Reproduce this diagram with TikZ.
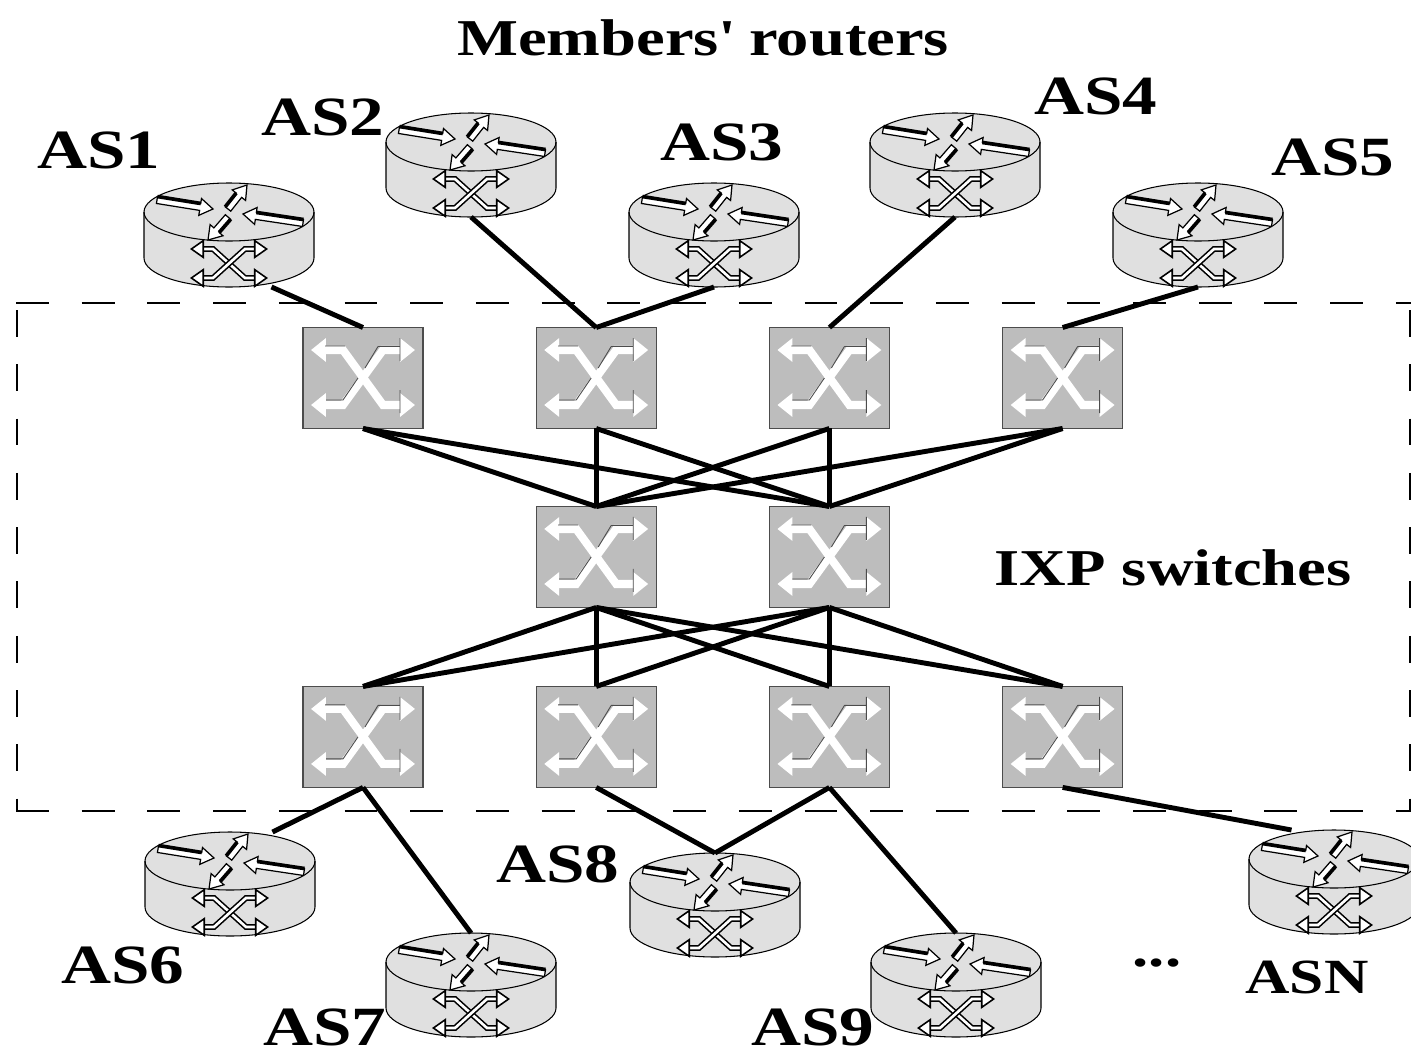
\documentclass[tikz,border=0pt]{standalone}
\usepackage{fontspec}
\setmainfont{Liberation Serif}[FakeStretch=1.25]
\usetikzlibrary{arrows.meta,calc}

\definecolor{routergray}{gray}{0.88}
\definecolor{switchgray}{gray}{0.74}

\newcommand{\blockarrow}[5]{%
  \pgfmathsetmacro{\blockang}{atan2(-(#4-#2),#3-#1)}%
  \pgfmathsetmacro{\blocklen}{veclen(#3-#1,#4-#2)}%
  \draw[line width=0.7pt,fill=white,shift={(#1,#2)},rotate=\blockang]
    (0,-3.5) -- ({\blocklen-13},-3.5) -- ({\blocklen-13},-8.5) -- ({\blocklen},0)
    -- ({\blocklen-13},8.5) -- ({\blocklen-13},3.5) -- (0,3.5) -- cycle;
  \draw[line width=2.1pt,shift={(#1,#2)},rotate=\blockang]
    (0,{#5*3.5}) -- ({\blocklen-13},{#5*3.5});
}

\tikzset{
  router/.style={minimum width=3.4cm,minimum height=2.08cm,inner sep=0pt,outer sep=0pt},
  switchbox/.style={draw=black!70,fill=switchgray,line width=0.6pt,minimum width=2.4cm,minimum height=2.02cm,inner sep=0pt,outer sep=0pt},
  link/.style={line width=2.8pt},
  titlelabel/.style={font=\fontsize{29.4}{29.4}\selectfont\bfseries,inner sep=0pt},
  aslabel/.style={font=\fontsize{31.5}{31.5}\selectfont\bfseries,inner sep=0pt},
  crossline/.style={line width=0.9pt,double=white,double distance=1.5pt,
    {Triangle[open,fill=white,length=8pt,width=11pt,line width=0.9pt]}-{Triangle[open,fill=white,length=8pt,width=11pt,line width=0.9pt]}},
  whitecross/.style={white,line width=4.6pt,
    {Triangle[length=8.5pt,width=13pt]}-{Triangle[length=8.5pt,width=13pt]}},
  routerglyph/.pic={
    \draw[fill=routergray,line width=0.6pt] (-85,-23) -- (-85,23)
      arc[start angle=180,end angle=360,x radius=85,y radius=-29] -- (85,-23)
      arc[start angle=0,end angle=180,x radius=85,y radius=-29] -- cycle;
    \draw[line width=0.6pt] (-85,-23) arc[start angle=180,end angle=360,x radius=85,y radius=-29];
    \blockarrow{-72}{-35}{-16}{-26}{-1}
    \blockarrow{-1}{-26}{18}{-50}{-1}
    \blockarrow{74}{-12}{14}{-21}{1}
    \blockarrow{-1}{-18}{-21}{5}{-1}
    \draw[crossline] (-39,14) -- (-16,14) -- (16,43) -- (39,43);
    \draw[crossline] (-39,43) -- (-16,43) -- (16,14) -- (39,14);
  },
  switchglyph/.pic={
    \draw[whitecross] (-52,-28) -- (-20,-28) -- (20,27) -- (52,27);
    \draw[whitecross] (-52,27) -- (-20,27) -- (20,-28) -- (52,-28);
    \draw[black!70,line width=0.5pt] (15,-31.5) -- (37,-31.5) (37,-40) -- (37,-17)
      (15,-31.5) -- (2,-10) (-37,22) -- (-20,22) -- (-5,0) (37,12) -- (37,35)
      (-38,-32) -- (-18,-32);
  }
}

\begin{document}
\begin{tikzpicture}[x=0.02cm,y=-0.02cm,node distance=4.665cm]
    \useasboundingbox (0,0) rectangle (1411,1055);

    % IXP area
    \draw[line width=0.7pt,dash pattern=on 18.7pt off 18.7pt] (16,303) -- (1411,303);
    \draw[line width=0.7pt,dash pattern=on 18.7pt off 18.7pt] (16,811) -- (1411,811);
    \draw[line width=0.7pt,dash pattern=on 15.3pt off 15.6pt,dash phase=-4pt] (17,303) -- (17,811);
    \draw[line width=0.7pt,dash pattern=on 15.3pt off 15.6pt,dash phase=-4pt] (1410,303) -- (1410,811);

    % switches
    \node (s1) [switchbox] at (363,378) {};
    \node (s2) [switchbox, right of=s1] {};
    \node (s3) [switchbox, right of=s2] {};
    \node (s4) [switchbox, right of=s3] {};
    \node (m1) [switchbox, below of=s2, node distance=3.58cm] {};
    \node (m2) [switchbox, right of=m1] {};
    \node (b1) [switchbox, below of=s1, node distance=7.18cm] {};
    \node (b2) [switchbox, right of=b1] {};
    \node (b3) [switchbox, right of=b2] {};
    \node (b4) [switchbox, right of=b3] {};
    \foreach \sw in {s1,s2,s3,s4,m1,m2,b1,b2,b3,b4}
        \pic at (\sw) {switchglyph};

    % routers
    \node (r1)  [router] at (229,235)  {};
    \node (r2)  [router] at (471,165)  {};
    \node (r3)  [router] at (714,235)  {};
    \node (r4)  [router] at (955,165)  {};
    \node (r5)  [router] at (1198,235) {};
    \node (r6)  [router] at (230,884)  {};
    \node (r7)  [router] at (471,985)  {};
    \node (r8)  [router] at (715,905)  {};
    \node (r9)  [router] at (956,985)  {};
    \node (rN)  [router] at (1334,882) {};
    \foreach \rt in {r1,r2,r3,r4,r5,r6,r7,r8,r9,rN}
        \pic at (\rt) {routerglyph};

    % links inside the fabric
    \foreach \sw in {s1,s2,s3,s4}
        \foreach \mid in {m1,m2}
            \draw[link] (\sw.south) -- (\mid.north);
    \foreach \sw in {b1,b2,b3,b4}
        \foreach \mid in {m1,m2}
            \draw[link] (\sw.north) -- (\mid.south);

    % links to the members
    \draw[link] ($(r1.south)!0.5!(r1.south east)$) -- (s1.north);
    \draw[link] (r2.south) -- (s2.north);
    \draw[link] (r3.south) -- (s2.north);
    \draw[link] (r4.south) -- (s3.north);
    \draw[link] (r5.south) -- (s4.north);
    \draw[link] ($(r6.north)!0.5!(r6.north east)$) -- (b1.south);
    \draw[link] (r7.north) -- (b1.south);
    \draw[link] (r8.north) -- (b2.south);
    \draw[link] (r8.north) -- (b3.south);
    \draw[link] (r9.north) -- (b3.south);
    \draw[link] ($(rN.north)!0.5!(rN.north west)$) -- (b4.south);

    \node (title) [titlelabel] at (703,38)  {Members\textquotesingle{} routers};
    \node (ixp)   [titlelabel] at (1173,568) {IXP switches};
    \node (as1)   [aslabel] at (99,150)  {AS1};
    \node (as2)   [aslabel] at (323,117) {AS2};
    \node (as3)   [aslabel] at (722,142) {AS3};
    \node (as4)   [aslabel] at (1096,96) {AS4};
    \node (as5)   [aslabel] at (1333,157) {AS5};
    \node (as6)   [aslabel] at (123,965) {AS6};
    \node (as7)   [aslabel] at (325,1027) {AS7};
    \node (as8)   [aslabel] at (558,864) {AS8};
    \node (as9)   [aslabel] at (813,1027) {AS9};
    \node (asN)   [titlelabel,font=\fontsize{28}{28}\selectfont\bfseries] at (1307,977) {ASN};
    \node (dots)  [titlelabel] at (1157,963) {...};
\end{tikzpicture}
\end{document}
